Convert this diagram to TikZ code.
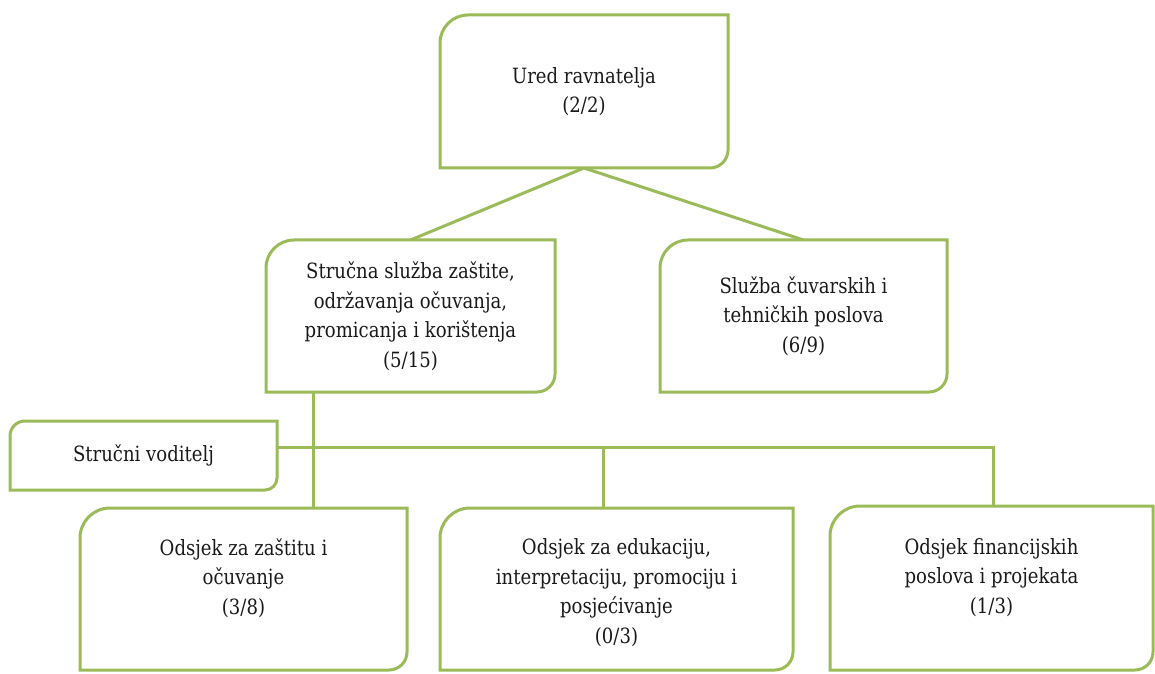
\documentclass[tikz,border=0pt]{standalone}
\usepackage{fontspec}
\setmainfont{DejaVu Serif}[FakeStretch=0.86]
\definecolor{leafgreen}{HTML}{9BBB59}

\begin{document}
\begin{tikzpicture}[x=1pt, y=1pt,
    unit/.style={inner sep=0pt, outer sep=0pt, align=center,
      font=\fontsize{21}{29.5}\selectfont, text=black!90},
    frame/.style={leafgreen, line width=3pt},
    link/.style={leafgreen, line width=3pt}]
  \useasboundingbox (0,0) rectangle (1155,673);

  % boxes
  \node[unit, minimum width=288, minimum height=153] (ured) at (584,581.5)
    {Ured ravnatelja\\(2/2)};
  \node[unit, minimum width=289, minimum height=152] (strucna) at (410.5,357)
    {Stručna služba zaštite,\\održavanja očuvanja,\\promicanja i korištenja\\(5/15)};
  \node[unit, minimum width=287, minimum height=152] (sluzba) at (803.5,357)
    {Služba čuvarskih i\\tehničkih poslova\\(6/9)};
  \node[unit, minimum width=267, minimum height=69] (vod) at (143.5,217.5)
    {Stručni voditelj};
  \node[unit, minimum width=327, minimum height=162, text height=50pt, text depth=0pt]
    (odz) at (243.5,84) {Odsjek za zaštitu i\\očuvanje\\(3/8)};
  \node[unit, minimum width=353, minimum height=162, text height=108pt, text depth=0pt]
    (odedu) at (616.5,84) {Odsjek za edukaciju,\\interpretaciju, promociju i\\posjećivanje\\(0/3)};
  \node[unit, minimum width=323, minimum height=164, text height=50pt, text depth=0pt]
    (odf) at (991.5,85) {Odsjek financijskih\\poslova i projekata\\(1/3)};

  % frames: rounded top left and bottom right
  \foreach \n/\R/\r in {ured/28/18, strucna/28/18, sluzba/28/18, vod/15/12,
                        odz/30/18, odedu/30/18, odf/30/18}
    \draw[frame] (\n.north east) -- ([yshift=\r]\n.south east)
      arc[start angle=0, end angle=-90, radius=\r] -- (\n.south west)
      -- ([yshift=-\R]\n.north west)
      arc[start angle=180, end angle=90, radius=\R] -- cycle;

  % connectors
  \draw[link] (ured.south) -- (strucna.north);
  \draw[link] (ured.south) -- (sluzba.north);
  \draw[link] ([xshift=-97.5]strucna.south) coordinate (trunk) -- (trunk |- odz.north);
  \draw[link] ([yshift=8.5]vod.east) coordinate (bus) -- ([xshift=1.5]bus -| odf.north)
    -- ([xshift=1.5]odf.north);
  \coordinate (drop) at ([xshift=-13.5]odedu.north);
  \draw[link] (drop) -- (drop |- bus);

\end{tikzpicture}
\end{document}
